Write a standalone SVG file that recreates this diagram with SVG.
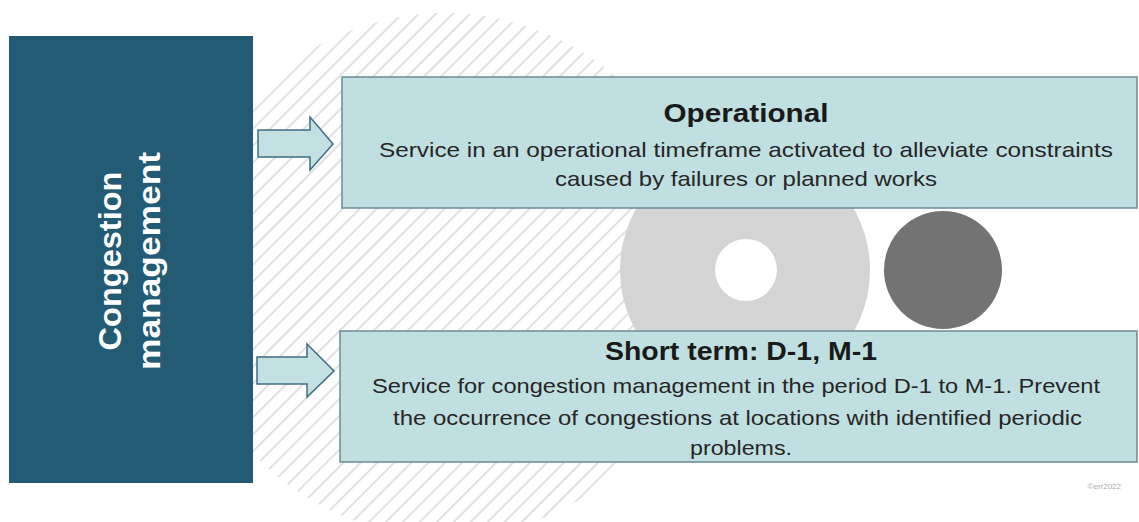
<svg xmlns="http://www.w3.org/2000/svg" width="1139" height="522" viewBox="0 0 1139 522">
<style>
.box{fill:#c0dfe0;stroke:#6a8a98;stroke-width:1.5}
.arrow{fill:#c3e0e3;stroke:#3f6d84;stroke-width:1.5}
.title{font-family:"Liberation Sans",Arial,sans-serif;font-weight:bold;font-size:26px;fill:#1a1a1a;text-anchor:middle}
.body{font-family:"Liberation Sans",Arial,sans-serif;font-size:21px;fill:#262626;text-anchor:middle}
.vert{font-family:"Liberation Sans",Arial,sans-serif;font-weight:bold;font-size:31px;fill:#ffffff;text-anchor:middle}
</style>
<defs>
<pattern id="hatch" patternUnits="userSpaceOnUse" width="12" height="12" patternTransform="rotate(45)">
<line x1="6" y1="0" x2="6" y2="12" stroke="#d0d0d0" stroke-width="1.3"/>
</pattern>
<clipPath id="hc"><circle cx="445" cy="275" r="262"/></clipPath>
</defs>
<rect width="1139" height="522" fill="#ffffff"/>
<g id="background">
<rect x="0" y="0" width="1139" height="522" fill="url(#hatch)" clip-path="url(#hc)"/>
<circle cx="745" cy="270" r="125" fill="#d4d4d4"/>
<circle cx="746" cy="270" r="31" fill="#ffffff"/>
<circle cx="943" cy="270" r="59" fill="#737373"/>
</g>
<g id="congestion-management">
<rect x="9" y="36" width="244" height="447" fill="#235a74"/>
<text class="vert" transform="translate(121,261) rotate(-90)" textLength="179" lengthAdjust="spacingAndGlyphs">Congestion</text>
<text class="vert" transform="translate(160,261) rotate(-90)" textLength="218" lengthAdjust="spacingAndGlyphs">management</text>
</g>
<g id="operational">
<rect class="box" x="342" y="77" width="795" height="131"/>
<text class="title" x="746" y="122" textLength="165" lengthAdjust="spacingAndGlyphs">Operational</text>
<text class="body" x="746" y="157" textLength="734" lengthAdjust="spacingAndGlyphs">Service in an operational timeframe activated to alleviate constraints</text>
<text class="body" x="746" y="186" textLength="382" lengthAdjust="spacingAndGlyphs">caused by failures or planned works</text>
</g>
<g id="short-term">
<rect class="box" x="340" y="331" width="797" height="131"/>
<text class="title" x="741" y="360" textLength="272" lengthAdjust="spacingAndGlyphs">Short term: D-1, M-1</text>
<text class="body" x="736" y="393" textLength="728" lengthAdjust="spacingAndGlyphs">Service for congestion management in the period D-1 to M-1. Prevent</text>
<text class="body" x="737.5" y="425" textLength="689" lengthAdjust="spacingAndGlyphs">the occurrence of congestions at locations with identified periodic</text>
<text class="body" x="741" y="455" textLength="102" lengthAdjust="spacingAndGlyphs">problems.</text>
</g>
<g id="connectors">
<path class="arrow" d="M258,130 H310 V117 L333,144 L310,170 V157 H258 Z"/>
<path class="arrow" d="M257,357 H307 V344 L334,371 L307,397 V384 H257 Z"/>
</g>
<text x="1121" y="489" font-family="Liberation Sans,Arial,sans-serif" font-size="8" fill="#a5adb5" text-anchor="end">©err2022</text>
</svg>
